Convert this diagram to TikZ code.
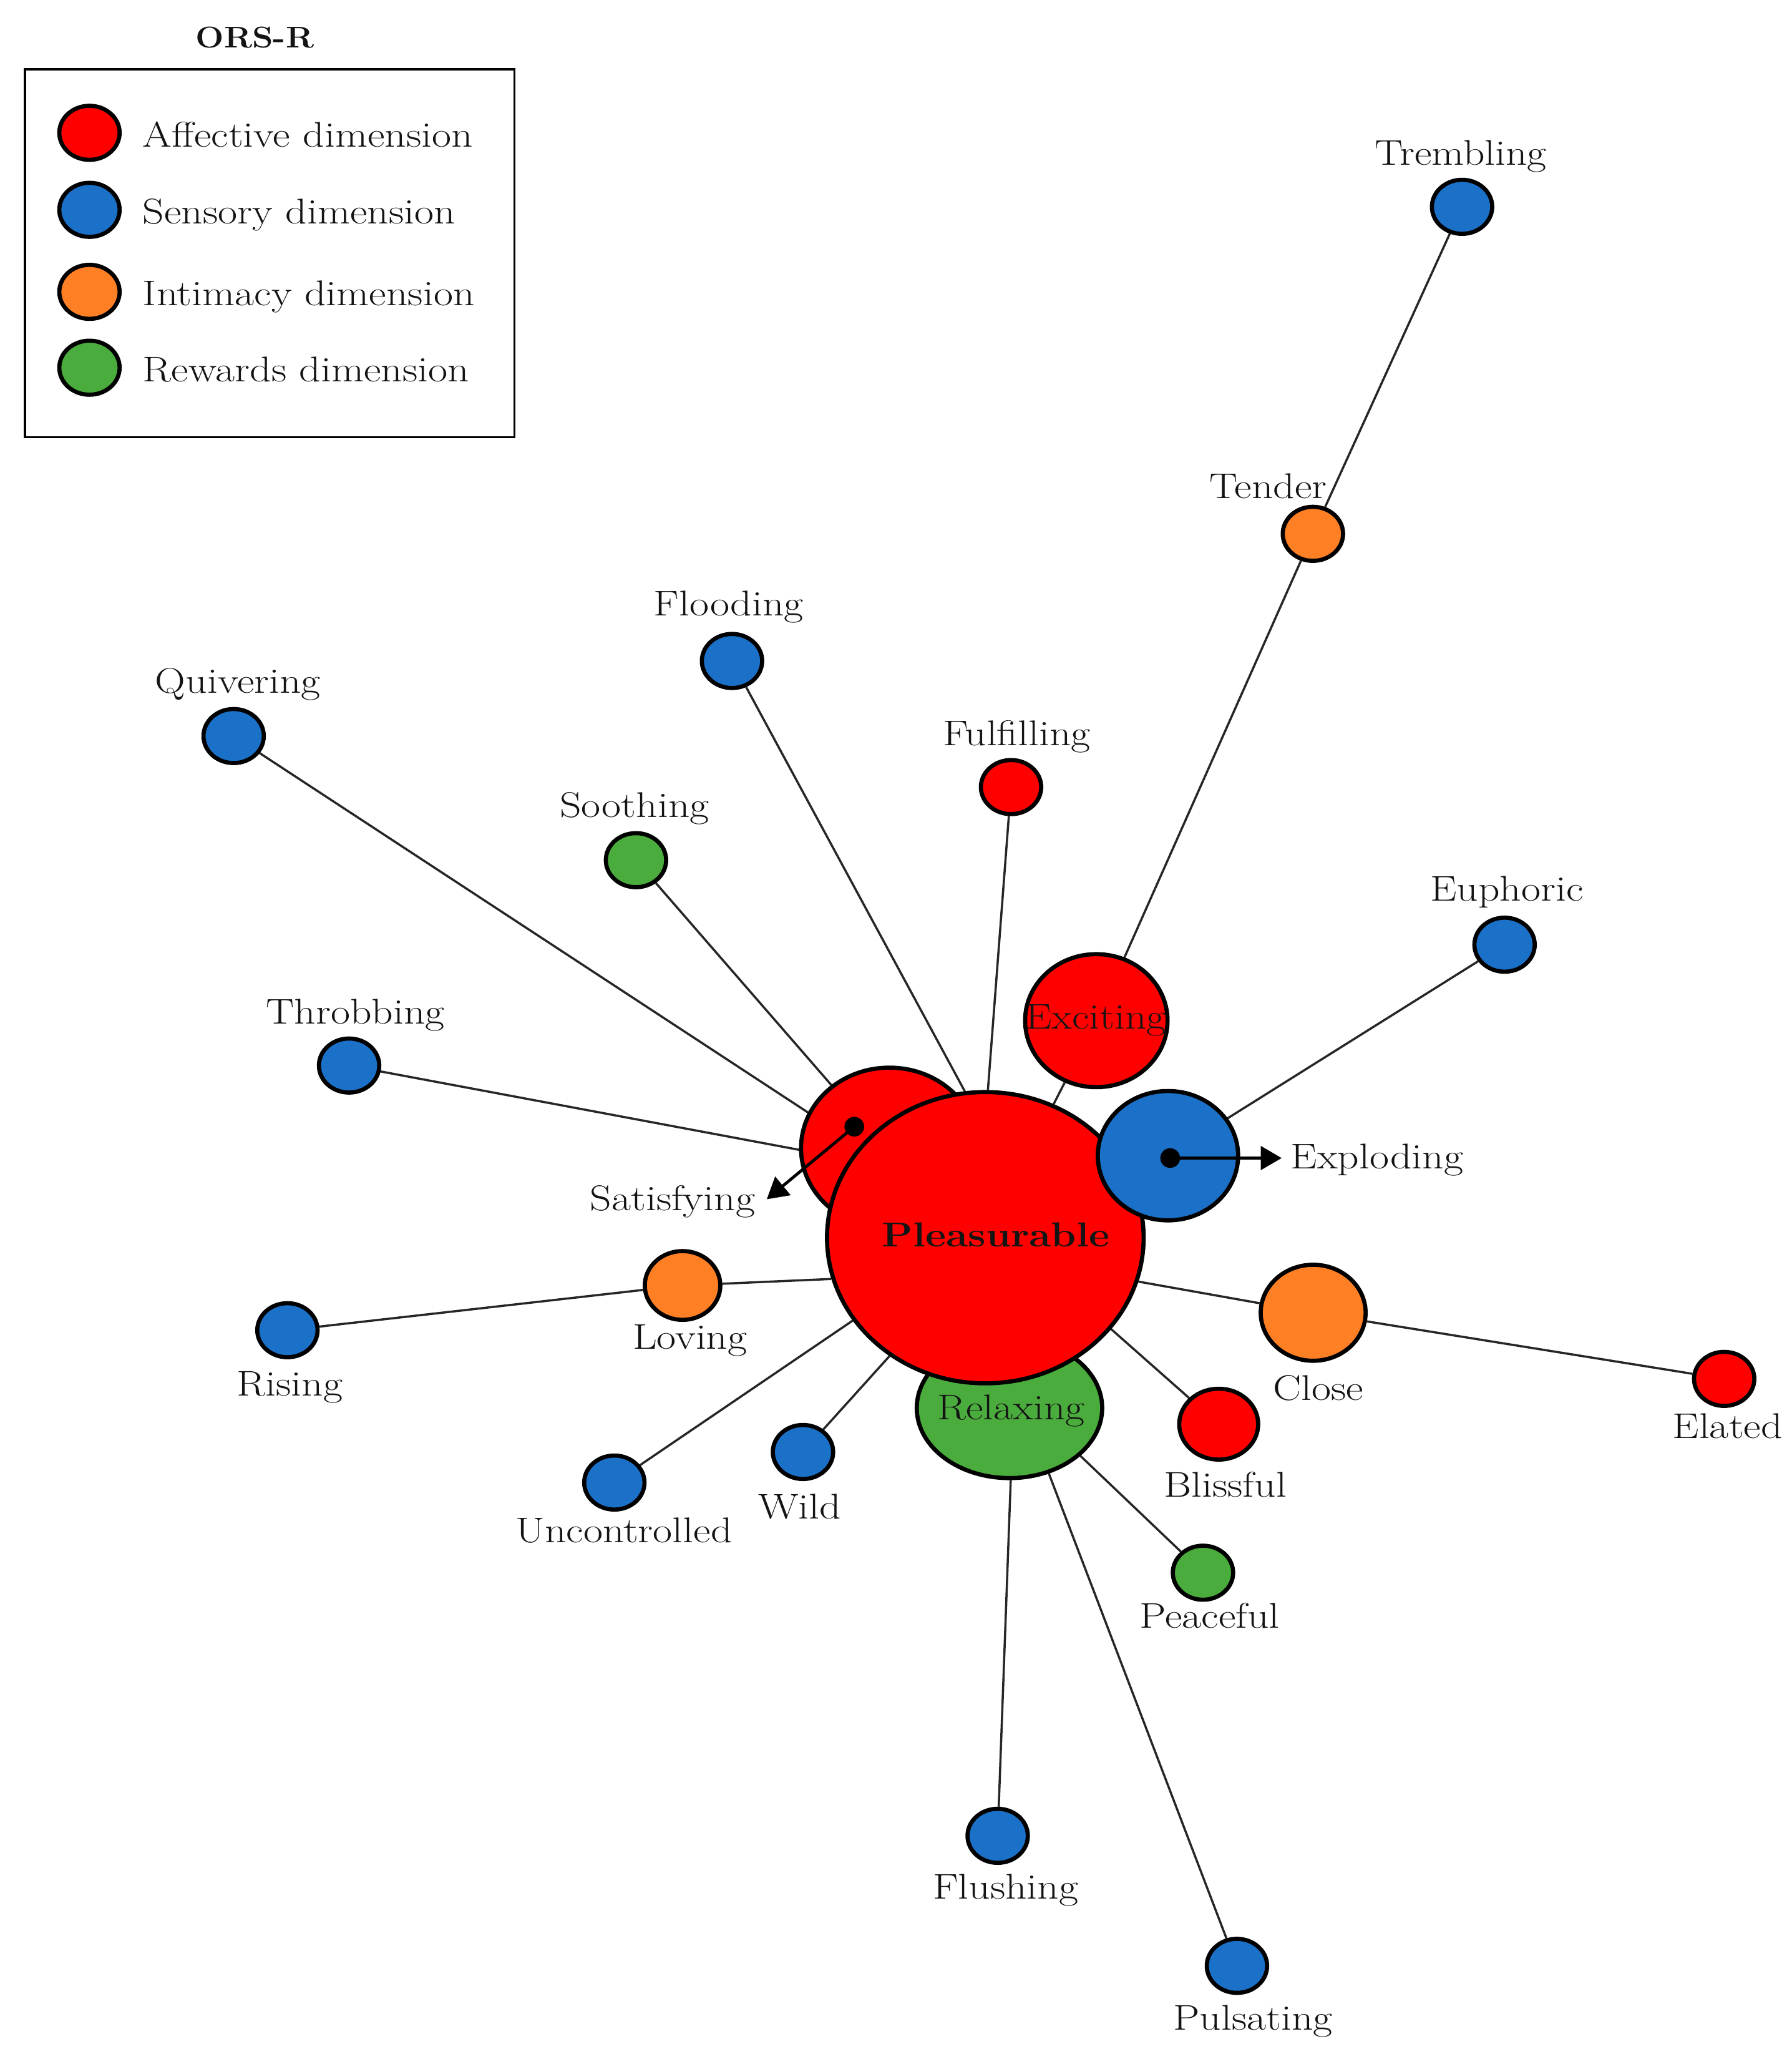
\documentclass[tikz,border=0pt]{standalone}
\usepackage{graphicx}
\usetikzlibrary{shapes.geometric,arrows.meta}
\definecolor{cRed}{RGB}{255,0,0}
\definecolor{cBlue}{RGB}{27,112,200}
\definecolor{cOrange}{RGB}{255,128,36}
\definecolor{cGreen}{RGB}{74,172,60}
\newcommand{\tx}[1]{\scalebox{1.18}[1]{#1}}
\newcommand{\txb}[1]{\scalebox{1.12}[1]{#1}}
\pgfdeclarelayer{bg}
\pgfsetlayers{bg,main}
\begin{document}
\begin{tikzpicture}[x=0.02cm,y=-0.02cm,
  font=\fontsize{15.5}{18}\selectfont,
  bub/.style={ellipse, draw=black, line width=1.8pt, inner sep=0pt},
  sm/.style={bub, minimum width=0.92cm, minimum height=0.824cm},
  red/.style={fill=cRed}, blue/.style={fill=cBlue},
  orng/.style={fill=cOrange}, grn/.style={fill=cGreen},
  edge/.style={draw=black!85, line width=0.95pt},
  lab/.style={text=black!92, inner sep=0pt},
  dotn/.style={circle, fill=black, inner sep=0pt, minimum size=0.3cm},
  arr/.style={line width=1.3pt, -{Triangle[length=0.32cm,width=0.36cm]}}
]
\useasboundingbox (0,0) rectangle (1366,1569.1);

% legend
\node[lab, font=\bfseries\fontsize{13}{16}\selectfont] (ttl) at (194.3,28.4) {\txb{ORS-R}};
\draw[line width=0.9pt] (19.1,52.8) rectangle (392.3,333.2);
\node[sm, red]  (lg1) at (68.2,101.2) {};
\node[sm, blue] (lg2) at (68.2,159.9) {};
\node[sm, orng] (lg3) at (68.2,222.4) {};
\node[sm, grn]  (lg4) at (68.2,280.2) {};
\node[lab, anchor=base west] (lt1) at (108.5,111.9) {\tx{Affective dimension}};
\node[lab, anchor=base west] (lt2) at (108.5,170.4) {\tx{Sensory dimension}};
\node[lab, anchor=base west] (lt3) at (108.5,232.9) {\tx{Intimacy dimension}};
\node[lab, anchor=base west] (lt4) at (108.5,290.7) {\tx{Rewards dimension}};

% large nodes
\node[bub, red, minimum width=2.696cm, minimum height=2.456cm] (sa) at (678,875) {};
\node[bub, grn, minimum width=2.828cm, minimum height=2.136cm] (re) at (769.5,1073) {};
\node[bub, red, minimum width=4.828cm, minimum height=4.44cm] (pl) at (751.1,943.2) {};
\node[bub, red, minimum width=2.172cm, minimum height=2.028cm] (ex) at (835.7,777.8) {};
\node[bub, blue, minimum width=2.14cm, minimum height=1.972cm] (xp) at (890.3,880.7) {};
\node[bub, orng, minimum width=1.152cm, minimum height=1.048cm] (lo) at (520.3,979.6) {};
\node[bub, orng, minimum width=1.6cm, minimum height=1.464cm] (cl) at (1001,1000.4) {};
\node[bub, red, minimum width=1.204cm, minimum height=1.08cm] (bl) at (929,1085.3) {};

% small nodes
\node[sm, blue] (tr) at (1114.5,157.6) {};
\node[sm, orng] (te) at (1000.8,406.8) {};
\node[sm, blue] (fl) at (558,503.7) {};
\node[sm, blue] (qu) at (178.1,560.9) {};
\node[sm, red]  (fu) at (770.7,599.8) {};
\node[sm, grn]  (so) at (484.8,655.5) {};
\node[sm, blue] (eu) at (1146.9,719.9) {};
\node[sm, blue] (th) at (266.1,812) {};
\node[sm, blue] (ri) at (219.1,1013.7) {};
\node[sm, red]  (el) at (1314.3,1050.8) {};
\node[sm, blue] (wi) at (612.1,1106.5) {};
\node[sm, blue] (un) at (468.3,1129.8) {};
\node[sm, grn]  (pe) at (917,1198.5) {};
\node[sm, blue] (fh) at (760.5,1399) {};
\node[sm, blue] (pu) at (942.9,1498.1) {};

% edges
\begin{pgfonlayer}{bg}
\draw[edge] (tr) -- (te);
\draw[edge] (te) -- (ex);
\draw[edge] (ex) -- (pl);
\draw[edge] (fu) -- (pl.89);
\draw[edge] (fl) -- (pl.98);
\draw[edge] (qu) -- (pl.144);
\draw[edge] (so) -- (pl.137);
\draw[edge] (th) -- (pl.150);
\draw[edge] (lo) -- (pl.195);
\draw[edge] (ri) -- (lo);
\draw[edge] (un) -- (pl.212);
\draw[edge] (wi) -- (pl.231);
\draw[edge] (eu) -- (xp);
\draw[edge] (cl) -- (pl.344);
\draw[edge] (cl) -- (el);
\draw[edge] (bl) -- (pl.324);
\draw[edge] (pe) -- (re.326);
\draw[edge] (fh) -- (re.271);
\draw[edge] (pu) -- (re.301);
\end{pgfonlayer}

% pointers
\node[dotn] (sdot) at (651.2,858.6) {};
\coordinate (satip) at (584.5,913.9);
\draw[arr] (sdot.center) -- (satip);
\node[dotn] (xdot) at (892,882.5) {};
\coordinate (xptip) at (977,882.5);
\draw[arr] (xdot.center) -- (xptip);

% labels
\node[lab] (tr-l) at (1113.5,119.3) {\tx{Trembling}};
\node[lab] (te-l) at (966.8,370.4) {\tx{Tender}};
\node[lab] (fl-l) at (555.4,462.7) {\tx{Flooding}};
\node[lab] (qu-l) at (181.4,521.6) {\tx{Quivering}};
\node[lab] (fu-l) at (775,561.4) {\tx{Fulfilling}};
\node[lab] (so-l) at (483.7,616) {\tx{Soothing}};
\node[lab] (eu-l) at (1148.6,679.8) {\tx{Euphoric}};
\node[lab] (th-l) at (270.9,773.8) {\tx{Throbbing}};
\node[lab] (sa-l) at (512.7,915.7) {\tx{Satisfying}};
\node[lab, anchor=west] (xp-l) at (983.6,884) {\tx{Exploding}};
\node[lab] (lo-l) at (525.9,1021.7) {\tx{Loving}};
\node[lab] (ri-l) at (220.9,1057) {\tx{Rising}};
\node[lab] (cl-l) at (1004.8,1057.6) {\tx{Close}};
\node[lab] (el-l) at (1316.9,1086.9) {\tx{Elated}};
\node[lab] (bl-l) at (934,1131.5) {\tx{Blissful}};
\node[lab] (un-l) at (475.6,1166.2) {\tx{Uncontrolled}};
\node[lab] (wi-l) at (609.6,1148) {\tx{Wild}};
\node[lab] (pe-l) at (922,1231) {\tx{Peaceful}};
\node[lab] (fh-l) at (766.6,1440.6) {\tx{Flushing}};
\node[lab] (pu-l) at (955,1540.5) {\tx{Pulsating}};
\node[lab] (ex-l) at (835.2,777.4) {\tx{Exciting}};
\node[lab, font=\bfseries\fontsize{15}{18}\selectfont] (pl-l) at (759.1,941.2) {\scalebox{1.16}[1]{Pleasurable}};
\node[lab] (re-l) at (770.7,1074.9) {\tx{Relaxing}};
\end{tikzpicture}
\end{document}
